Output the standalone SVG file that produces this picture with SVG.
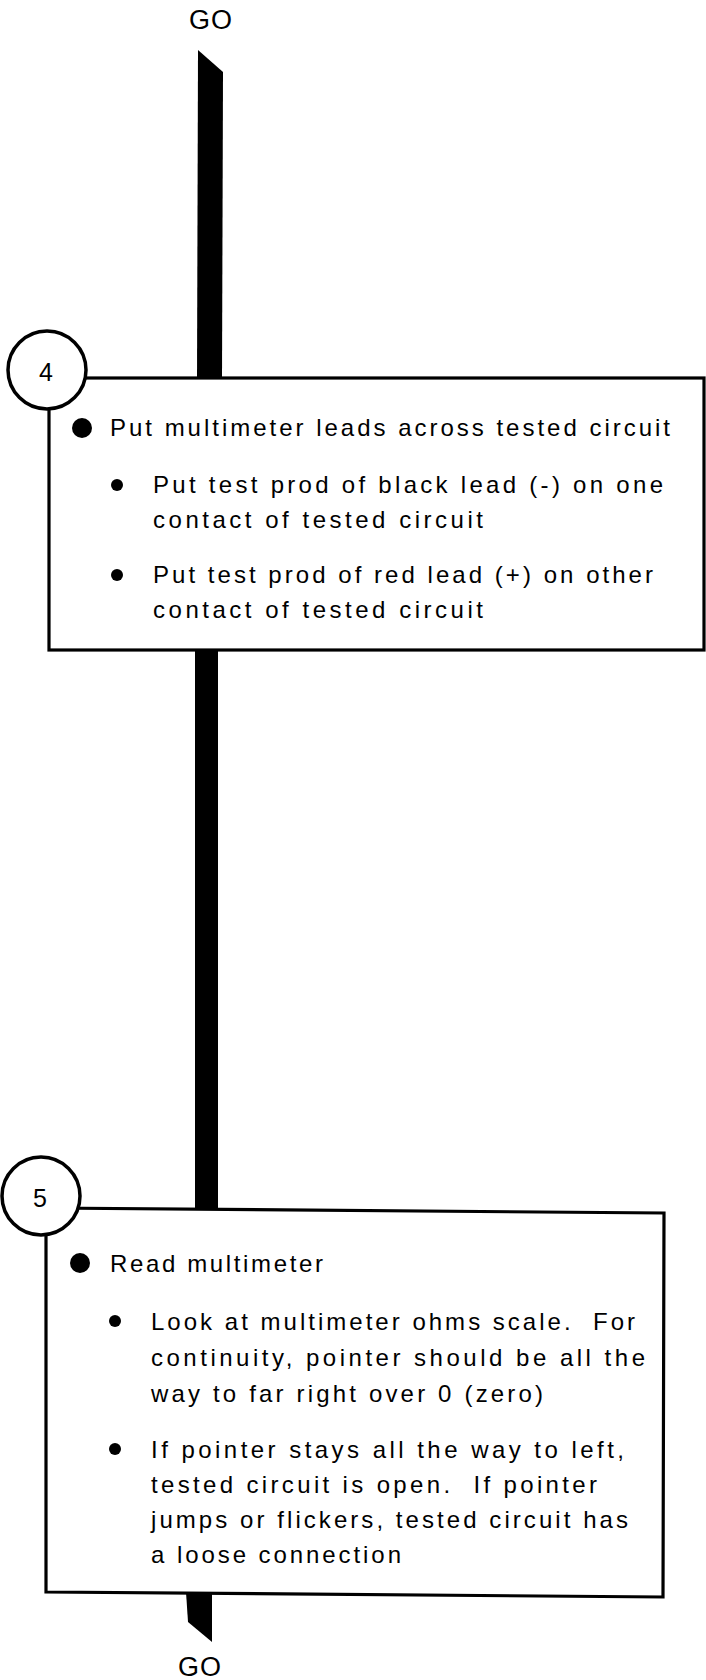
<svg xmlns="http://www.w3.org/2000/svg" width="706" height="1680" viewBox="0 0 706 1680">
<style>
.t{font-family:"Liberation Sans",Arial,sans-serif;font-size:24px;fill:#000}
.go{font-family:"Liberation Sans",Arial,sans-serif;font-size:27px;fill:#000;text-anchor:middle;letter-spacing:1px}
.num{font-family:"Liberation Sans",Arial,sans-serif;font-size:25px;fill:#000;text-anchor:middle}
.box{fill:#fff;stroke:#000;stroke-width:3.2}
.circ{fill:#fff;stroke:#000;stroke-width:3.5}
.bar{fill:#000}
</style>
<rect width="706" height="1680" fill="#fff"/>
<g id="connectors">
<polygon class="bar" points="198,50 223,72 222,382 197,382"/>
<rect class="bar" x="195" y="646" width="23" height="566"/>
<polygon class="bar" points="186,1592 212,1592 212,1642 188,1622"/>
</g>
<g id="go-top"><text class="go" x="211" y="29">GO</text></g>
<g id="step4">
<rect class="box" x="49" y="378" width="655" height="272"/>
<circle class="circ" cx="47" cy="370" r="39"/>
<text class="num" x="46" y="381">4</text>
<circle cx="82" cy="428" r="10"/>
<text class="t" x="110" y="436" textLength="560" lengthAdjust="spacing">Put multimeter leads across tested circuit</text>
<circle cx="117" cy="485" r="6"/>
<text class="t" x="153" y="493" textLength="510" lengthAdjust="spacing">Put test prod of black lead (-) on one</text>
<text class="t" x="153" y="528" textLength="330" lengthAdjust="spacing">contact of tested circuit</text>
<circle cx="117" cy="575" r="6"/>
<text class="t" x="153" y="583" textLength="500" lengthAdjust="spacing">Put test prod of red lead (+) on other</text>
<text class="t" x="153" y="618" textLength="330" lengthAdjust="spacing">contact of tested circuit</text>
</g>
<g id="step5">
<polygon class="box" points="46,1208 664,1213 663,1597 46,1592"/>
<circle class="circ" cx="41" cy="1196" r="39"/>
<text class="num" x="40" y="1207">5</text>
<circle cx="80" cy="1263" r="10"/>
<text class="t" x="110" y="1272" textLength="213" lengthAdjust="spacing">Read multimeter</text>
<circle cx="115" cy="1321" r="6"/>
<text class="t" x="151" y="1330" textLength="484" lengthAdjust="spacing" xml:space="preserve">Look at multimeter ohms scale.  For</text>
<text class="t" x="151" y="1366" textLength="494" lengthAdjust="spacing">continuity, pointer should be all the</text>
<text class="t" x="151" y="1402" textLength="392" lengthAdjust="spacing">way to far right over 0 (zero)</text>
<circle cx="115" cy="1449" r="6"/>
<text class="t" x="151" y="1458" textLength="473" lengthAdjust="spacing">If pointer stays all the way to left,</text>
<text class="t" x="151" y="1493" textLength="446" lengthAdjust="spacing" xml:space="preserve">tested circuit is open.  If pointer</text>
<text class="t" x="151" y="1528" textLength="477" lengthAdjust="spacing">jumps or flickers, tested circuit has</text>
<text class="t" x="151" y="1563" textLength="250" lengthAdjust="spacing">a loose connection</text>
</g>
<g id="go-bottom"><text class="go" x="200" y="1676">GO</text></g>
</svg>
